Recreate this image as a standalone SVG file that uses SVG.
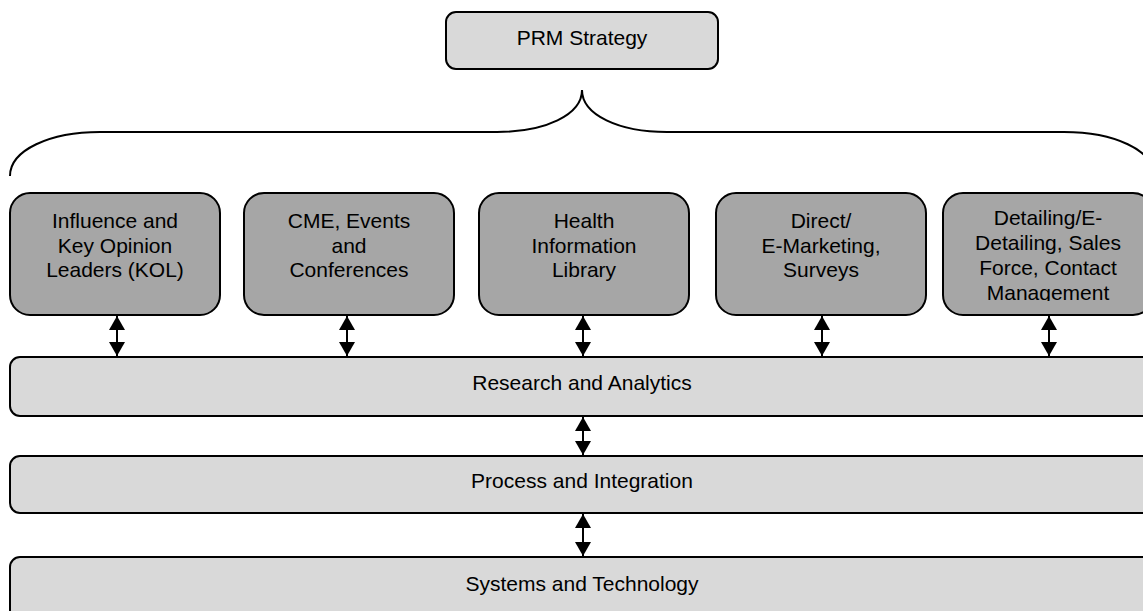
<svg xmlns="http://www.w3.org/2000/svg" width="1143" height="611" viewBox="0 0 1143 611">
  <style>
    .lbl { font-family: "Liberation Sans", Arial, sans-serif; font-size: 21px; fill: #000; text-anchor: middle; }
    .light { fill: #d9d9d9; stroke: #000; stroke-width: 2; }
    .dark { fill: #a6a6a6; stroke: #000; stroke-width: 2; }
    .link { stroke: #000; stroke-width: 2; fill: none; }
  </style>
  <defs>
    <marker id="head" viewBox="0 0 14 16" refX="14" refY="8" markerWidth="14" markerHeight="16" markerUnits="userSpaceOnUse" orient="auto-start-reverse">
      <path d="M0,0 L14,8 L0,16 Z" fill="#000"/>
    </marker>
    <clipPath id="clip-detailing">
      <rect x="943" y="193" width="220" height="108"/>
    </clipPath>
  </defs>

  <rect width="1143" height="611" fill="#fff"/>

  <g id="prm-strategy">
    <rect class="light" x="446" y="12" width="272" height="57" rx="10"/>
    <text class="lbl" x="582" y="45">PRM Strategy</text>
  </g>

  <!-- curly brace spanning the five programme areas -->
  <g id="brace">
    <path class="link" d="M10,176 C10,150 50,132 100,132 L497,132 C545,132 582,115 582,90 C582,115 619,132 667,132 L1064,132 C1114,132 1154,150 1154,176"/>
  </g>

  <g id="kol">
    <rect class="dark" x="10" y="193" width="210" height="122" rx="20"/>
    <text class="lbl" x="115" y="228">Influence and</text>
    <text class="lbl" x="115" y="253">Key Opinion</text>
    <text class="lbl" x="115" y="277">Leaders (KOL)</text>
  </g>

  <g id="cme">
    <rect class="dark" x="244" y="193" width="210" height="122" rx="20"/>
    <text class="lbl" x="349" y="228">CME, Events</text>
    <text class="lbl" x="349" y="253">and</text>
    <text class="lbl" x="349" y="277">Conferences</text>
  </g>

  <g id="health-library">
    <rect class="dark" x="479" y="193" width="210" height="122" rx="20"/>
    <text class="lbl" x="584" y="228">Health</text>
    <text class="lbl" x="584" y="253">Information</text>
    <text class="lbl" x="584" y="277">Library</text>
  </g>

  <g id="direct-marketing">
    <rect class="dark" x="716" y="193" width="210" height="122" rx="20"/>
    <text class="lbl" x="821" y="228">Direct/</text>
    <text class="lbl" x="821" y="253">E-Marketing,</text>
    <text class="lbl" x="821" y="277">Surveys</text>
  </g>

  <g id="detailing">
    <rect class="dark" x="943" y="193" width="210" height="122" rx="20"/>
    <g clip-path="url(#clip-detailing)">
      <text class="lbl" x="1048" y="225">Detailing/E-</text>
      <text class="lbl" x="1048" y="250">Detailing, Sales</text>
      <text class="lbl" x="1048" y="275">Force, Contact</text>
      <text class="lbl" x="1048" y="300">Management</text>
    </g>
  </g>

  <g id="research">
    <rect class="light" x="10" y="357" width="1160" height="59" rx="10"/>
    <text class="lbl" x="582" y="390">Research and Analytics</text>
  </g>

  <g id="process">
    <rect class="light" x="10" y="456" width="1160" height="57" rx="10"/>
    <text class="lbl" x="582" y="488">Process and Integration</text>
  </g>

  <g id="systems">
    <rect class="light" x="10" y="557" width="1160" height="70" rx="10"/>
    <text class="lbl" x="582" y="591">Systems and Technology</text>
  </g>

  <g id="connectors">
    <line class="link" x1="117" y1="316" x2="117" y2="356" marker-start="url(#head)" marker-end="url(#head)"/>
    <line class="link" x1="347" y1="316" x2="347" y2="356" marker-start="url(#head)" marker-end="url(#head)"/>
    <line class="link" x1="583" y1="316" x2="583" y2="356" marker-start="url(#head)" marker-end="url(#head)"/>
    <line class="link" x1="822" y1="316" x2="822" y2="356" marker-start="url(#head)" marker-end="url(#head)"/>
    <line class="link" x1="1049" y1="316" x2="1049" y2="356" marker-start="url(#head)" marker-end="url(#head)"/>
    <line class="link" x1="583" y1="417" x2="583" y2="455" marker-start="url(#head)" marker-end="url(#head)"/>
    <line class="link" x1="583" y1="514" x2="583" y2="556" marker-start="url(#head)" marker-end="url(#head)"/>
  </g>
</svg>
